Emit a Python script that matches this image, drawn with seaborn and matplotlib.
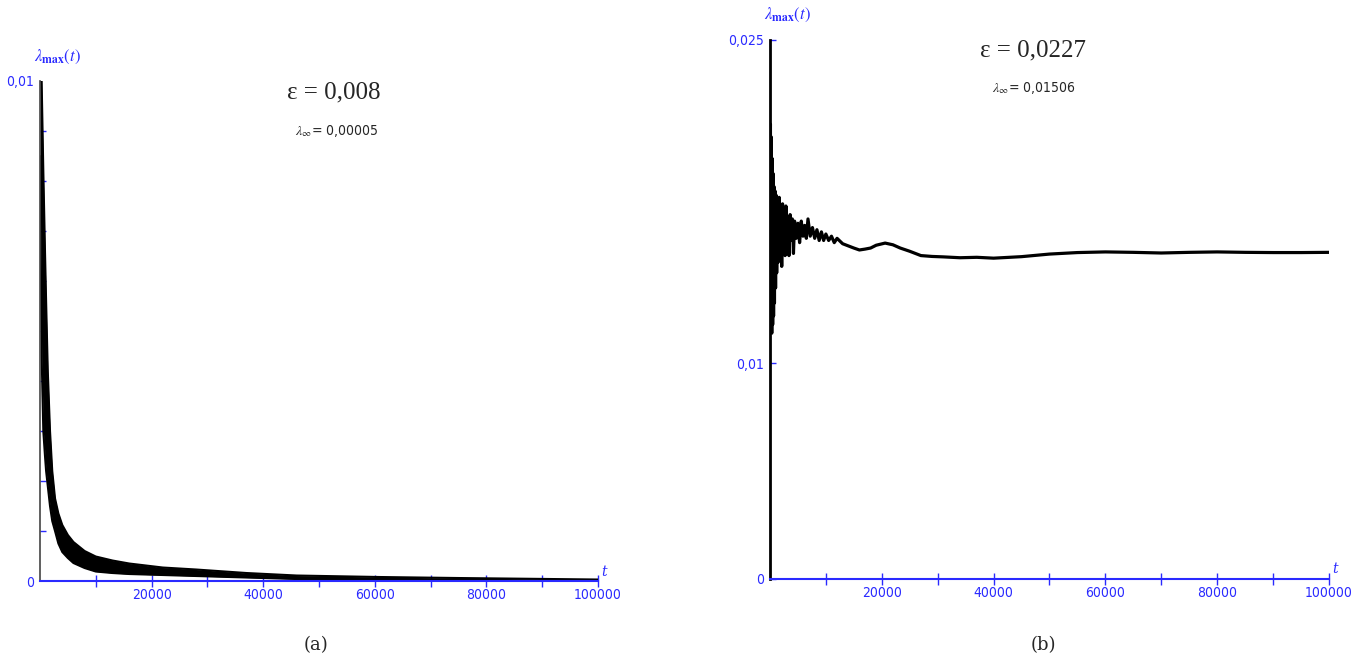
import matplotlib
matplotlib.use("Agg")
import matplotlib.pyplot as plt
import seaborn as sns
import pandas as pd
import numpy as np

# panel (a): envelope of the fast-oscillating lambda_max(t), eps = 0.008
t_a = [0, 300, 600, 900, 1100, 1400, 1800, 2200, 2700, 3300, 4000, 5000, 6000,
       8000, 10000, 13000, 16000, 22000, 28000, 37000, 46000, 61000, 75000, 100000]
upper_a = [0.0100, 0.0100, 0.0082, 0.0066, 0.0056, 0.0042, 0.0030, 0.0022, 0.00165,
           0.00135, 0.00112, 0.00092, 0.00078, 0.00060, 0.00049, 0.00041, 0.00035,
           0.00027, 0.00023, 0.00016, 0.00011, 0.00008, 0.00006, 0.00003]
lower_a = [0.0085, 0.0045, 0.0030, 0.0025, 0.0022, 0.0019, 0.0015, 0.0012, 0.0010,
           0.00075, 0.00058, 0.00046, 0.00036, 0.00026, 0.00019, 0.00016, 0.00014,
           0.00012, 0.00010, 0.00007, 0.00004, 0.00002, 0.00001, 0.0]

# panel (b): lambda_max(t), eps = 0.0227
t_b = [0, 80, 160, 240, 320, 400, 480, 560, 640, 720, 800, 900, 1000, 1100, 1200,
       1350, 1500, 1650, 1800, 1950, 2100, 2250, 2400, 2550, 2700, 2850, 3000,
       3200, 3400, 3600, 3800, 4000, 4200, 4400, 4700, 5000, 5300, 5600, 5900,
       6200, 6500, 6800, 7200, 7600, 8000, 8400, 8800, 9200, 9600, 10000, 10500,
       11000, 11500, 12000, 13000, 14000, 15000, 16000, 17000, 18000, 19000,
       20600, 22000, 23300, 25000, 27000, 29000, 31000, 34000, 37000, 40000,
       45000, 50000, 55000, 60000, 65000, 70000, 75000, 80000, 85000, 90000,
       95000, 100000]
lam_b = [0.0160, 0.0211, 0.0130, 0.0205, 0.0114, 0.0195, 0.0118, 0.0188, 0.0122,
         0.0182, 0.0128, 0.0180, 0.0135, 0.0178, 0.0142, 0.0175, 0.0147, 0.0177,
         0.0150, 0.0172, 0.0145, 0.0174, 0.0152, 0.0170, 0.0150, 0.0173, 0.0155,
         0.0168, 0.0150, 0.0169, 0.0157, 0.0167, 0.0151, 0.0166, 0.0158, 0.0165,
         0.0156, 0.0166, 0.0159, 0.0164, 0.0158, 0.0167, 0.0159, 0.0163, 0.0158,
         0.0162, 0.0157, 0.0161, 0.0157, 0.0160, 0.0157, 0.0159, 0.0156, 0.0158,
         0.01555, 0.01545, 0.01535, 0.01526, 0.0153, 0.01535, 0.01548, 0.01558,
         0.0155, 0.01535, 0.0152, 0.0150, 0.01496, 0.01494, 0.01490, 0.01492,
         0.01488, 0.01495, 0.01507, 0.01514, 0.01517, 0.01515, 0.01512, 0.01515,
         0.01517, 0.01515, 0.01514, 0.01514, 0.01515]

df_a = pd.DataFrame({'t': t_a, 'upper': upper_a, 'lower': lower_a})
df_b = pd.DataFrame({'t': t_b, 'lam': lam_b})

sns.set_theme(style='white')
plt.rcParams['mathtext.fontset'] = 'stix'
tick_font = ['DejaVu Sans']
blue = '#2a2aff'

fig = plt.figure(figsize=(13.64, 6.61), dpi=100)
ax_a = fig.add_axes([0.0293, 0.1210, 0.4091, 0.7565])
ax_b = fig.add_axes([0.5645, 0.1241, 0.4098, 0.8154])

# (a)
ax_a.fill_between(df_a['t'], df_a['lower'], df_a['upper'], color='black', lw=0)
sns.lineplot(data=df_a, x='t', y='upper', ax=ax_a, color='black', lw=1.5)
sns.lineplot(data=df_a, x='t', y='lower', ax=ax_a, color='black', lw=1.5)
ax_a.set_ylim(0, 0.01)
ax_a.set_yticks([0, 0.01], ['0', '0,01'])
ax_a.set_yticks(np.arange(0.001, 0.01, 0.001), minor=True)
ax_a.spines['left'].set_color('#444444')
ax_a.spines['left'].set_linewidth(1.2)

# (b)
sns.lineplot(data=df_b, x='t', y='lam', ax=ax_b, color='black', lw=2.3)
ax_b.set_ylim(0, 0.025)
ax_b.set_yticks([0, 0.01, 0.025], ['0', '0,01', '0,025'])
ax_b.spines['left'].set_color('black')
ax_b.spines['left'].set_linewidth(2)

for ax in (ax_a, ax_b):
    ax.set_xlim(0, 100000)
    ax.set_xticks([20000, 40000, 60000, 80000, 100000],
                  ['20000', '40000', '60000', '80000', '100000'])
    ax.set_xticks([10000, 30000, 50000, 70000, 90000], minor=True)
    ax.set_xlabel('')
    ax.set_ylabel('')
    for s in ('top', 'right'):
        ax.spines[s].set_visible(False)
    ax.spines['bottom'].set_color(blue)
    ax.spines['bottom'].set_linewidth(1.5)
    ax.tick_params(axis='x', which='both', bottom=True, direction='inout', length=8,
                   width=1, color=blue, labelcolor=blue, labelsize=10, pad=1)
    ax.tick_params(axis='y', which='both', left=True, direction='in', length=4,
                   width=1, color=blue, labelcolor=blue, labelsize=10, pad=4)
    for lab in ax.get_xticklabels() + ax.get_yticklabels():
        lab.set_family(tick_font)
        lab.set_stretch('condensed')
    ax.text(1.005, 0.005, 't', transform=ax.transAxes, color=blue,
            fontsize=10, style='italic', family='DejaVu Serif', va='bottom')
    ax.text(-0.01, 1.03, r'$\lambda_{\mathbf{max}}(t)$', transform=ax.transAxes,
            color=blue, fontsize=12, va='bottom')
    ax.set_facecolor('white')
ax_a.tick_params(axis='y', which='major', length=0)

# annotations
fig.text(334 / 1364, 1 - 92 / 661, 'ε = 0,008', ha='center', va='center',
         fontsize=18, family='Liberation Serif')
fig.text(337 / 1364, 1 - 131 / 661, r'$\lambda_{\infty}$= 0,00005', ha='center',
         va='center', fontsize=10, family=tick_font, stretch='condensed')
fig.text(1033 / 1364, 1 - 50 / 661, 'ε = 0,0227', ha='center', va='center',
         fontsize=18, family='Liberation Serif')
fig.text(1034 / 1364, 1 - 88 / 661, r'$\lambda_{\infty}$= 0,01506', ha='center',
         va='center', fontsize=10, family=tick_font, stretch='condensed')
fig.text(316 / 1364, 1 - 645 / 661, '(a)', ha='center', va='center',
         fontsize=13, family='DejaVu Serif')
fig.text(1043 / 1364, 1 - 645 / 661, '(b)', ha='center', va='center',
         fontsize=13, family='DejaVu Serif')

fig.savefig('out.png', dpi=100, facecolor='white')
